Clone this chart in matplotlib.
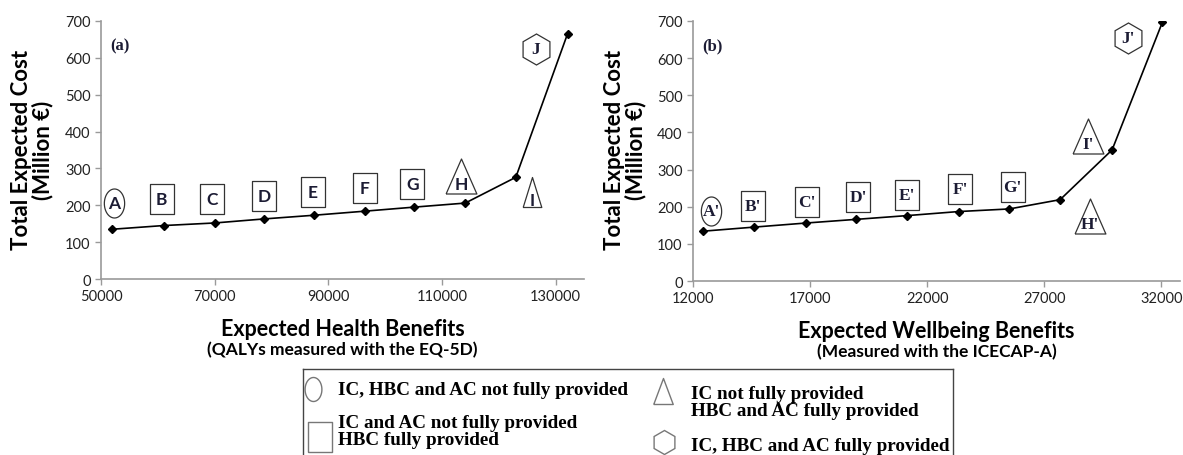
import numpy as np
import matplotlib
matplotlib.use('Agg')
import matplotlib.pyplot as plt

# panel (a): health benefits
a_x = [52000, 61000, 70000, 78700, 87500, 96400, 105100, 114100, 123000, 132100]
a_y = [135, 145, 152, 163, 173, 184, 195, 206, 276, 665]
a_labels = ['A', 'B', 'C', 'D', 'E', 'F', 'G', 'H', 'I', 'J']
a_lab_x = [52300, 60700, 69600, 78700, 87300, 96400, 104800, 113400, 125900, 126500]
a_lab_y = [207, 216, 217, 224, 235, 246, 257, 280, 237, 625]
a_shapes = ['ell', 'box', 'box', 'box', 'box', 'box', 'box', 'tri', 'tri_n', 'hex']

# panel (b): wellbeing benefits
b_x = [12410, 14590, 16810, 18980, 21130, 23350, 25510, 27680, 29900, 32050]
b_y = [134, 145, 156, 166, 176, 187, 194, 219, 353, 697]
b_labels = ["A'", "B'", "C'", "D'", "E'", "F'", "G'", "H'", "I'", "J'"]
b_lab_x = [12770, 14580, 16880, 19060, 21150, 23410, 25650, 28960, 28880, 30560]
b_lab_y = [189, 203, 213, 227, 232, 248, 253, 176, 390, 655]
b_shapes = ['ell', 'box', 'box', 'box', 'box', 'box', 'box', 'tri', 'tri', 'hex']

a_ticks = [50000, 70000, 90000, 110000, 130000]
b_ticks = [12000, 17000, 22000, 27000, 32000]
y_ticks = [0, 100, 200, 300, 400, 500, 600, 700]

legend_items = [
    ('ell', 'IC, HBC and AC not fully provided'),
    ('box', 'IC and AC not fully provided\nHBC fully provided'),
    ('tri', 'IC not fully provided\nHBC and AC fully provided'),
    ('hex', 'IC, HBC and AC fully provided'),
]

SANS = ['Lato', 'DejaVu Sans']
SERIF = ['Liberation Serif', 'DejaVu Serif']
GREY = '#9a9a9a'
TXT = '#1c1c34'

t = np.linspace(0, 2 * np.pi, 60)
MARKERS = {
    'ell': np.column_stack([0.7 * np.cos(t), np.sin(t)]),
    'box': np.array([[-0.77, -1], [0.77, -1], [0.77, 1], [-0.77, 1], [-0.77, -1]]),
    'tri': np.array([[-0.88, -1], [0.88, -1], [0, 1], [-0.88, -1]]),
    'tri_n': np.array([[-0.62, -1], [0.62, -1], [0, 1], [-0.62, -1]]),
    'tri_l': np.array([[-0.75, -1], [0.75, -1], [0, 1], [-0.75, -1]]),
    'hex': 'h',
}
SIZES = {'ell': 29, 'box': 30, 'tri': 35, 'tri_n': 30, 'hex': 31}
PX = 72 / 100.0  # pixels -> points


def draw_panel(ax, xs, ys, labels, lx, ly, shapes, ticks, xlim, xlabel, sub, tag,
               lab_family):
    ax.plot(xs, ys, color='black', lw=1.2, marker='D', ms=4.5, zorder=3)
    for lab, x, y, sh in zip(labels, lx, ly, shapes):
        ax.plot(x, y, marker=MARKERS[sh], ms=SIZES[sh] * PX,
                mfc='white', mec='#333333', mew=0.9, ls='none', zorder=4)
        dy = -6 if sh.startswith('tri') else 0
        fam = SERIF if lab.startswith('J') else lab_family
        ax.annotate(lab, (x, y), xytext=(0, dy), textcoords='offset points',
                    ha='center', va='center', fontsize=12.5, fontweight='bold',
                    family=fam, color=TXT, zorder=5)
    ax.set_xlim(*xlim)
    ax.set_ylim(0, 700)
    ax.set_xticks(ticks)
    ax.set_yticks(y_ticks)
    for s in ['top', 'right']:
        ax.spines[s].set_visible(False)
    for s in ['left', 'bottom']:
        ax.spines[s].set_color(GREY)
        ax.spines[s].set_linewidth(1.2)
    ax.tick_params(colors=GREY, labelcolor='#222222', length=4, width=1,
                   labelsize=10.5, direction='out')
    for lbl in ax.get_xticklabels() + ax.get_yticklabels():
        lbl.set_family(SANS)
    ax.text(0.04, 0.905, tag, transform=ax.transAxes, fontsize=12,
            fontweight='bold', family=SERIF, color=TXT, ha='center', va='center')
    ax.text(0.5, -0.19, xlabel, transform=ax.transAxes, ha='center', va='center',
            fontsize=15.5, fontweight='bold', family=SANS)
    ax.text(0.5, -0.27, sub, transform=ax.transAxes, ha='center', va='center',
            fontsize=12.5, fontweight='bold', family=SANS)


fig = plt.figure(figsize=(11.83, 4.56), dpi=100)
W, H = 1183, 456
ax1 = fig.add_axes([101 / W, 1 - 280 / H, (584 - 101) / W, (280 - 22) / H])
ax2 = fig.add_axes([693 / W, 1 - 282 / H, (1180 - 693) / W, (282 - 22) / H])

draw_panel(ax1, a_x, a_y, a_labels, a_lab_x, a_lab_y, a_shapes, a_ticks,
           (50000, 135000), 'Expected Health Benefits',
           '(QALYs measured with the EQ-5D)', '(a)', SANS)
draw_panel(ax2, b_x, b_y, b_labels, b_lab_x, b_lab_y, b_shapes, b_ticks,
           (12000, 32800), 'Expected Wellbeing Benefits',
           '(Measured with the ICECAP-A)', '(b)', SERIF)

for xc in [32 / W, 625 / W]:
    fig.text(xc, 1 - 150 / H, 'Total Expected Cost\n(Million \u20ac)', rotation=90,
             ha='center', va='center', fontsize=16, fontweight='bold',
             family=SANS, linespacing=1.0)

# legend box
lax = fig.add_axes([303 / W, 1 - 460 / H, (953 - 303) / W, (460 - 370) / H])
lax.set_xlim(303, 953)
lax.set_ylim(460, 370)
lax.set_xticks([])
lax.set_yticks([])
for s in lax.spines.values():
    s.set_color('#444444')
    s.set_linewidth(1.0)
# marker x, marker y, text x, text y
leg_pos = [(313, 390, 338, 391), (320, 438, 338, 432), (663, 392, 691, 403),
           (664, 443, 691, 447)]
leg_size = {'ell': 24, 'box': 30, 'tri_l': 26, 'hex': 24}
leg_mk = ['ell', 'box', 'tri_l', 'hex']
for (sh, txt), mk, (mx, my, tx, ty) in zip(legend_items, leg_mk, leg_pos):
    lax.plot(mx, my, marker=MARKERS[mk], ms=leg_size[mk] * PX, mfc='white',
             mec='#777777', mew=1.0, ls='none')
    lax.text(tx, ty, txt, ha='left', va='center', fontsize=13.8,
             fontweight='bold', family=SERIF, linespacing=1.0)

fig.savefig('out.png', dpi=100)
